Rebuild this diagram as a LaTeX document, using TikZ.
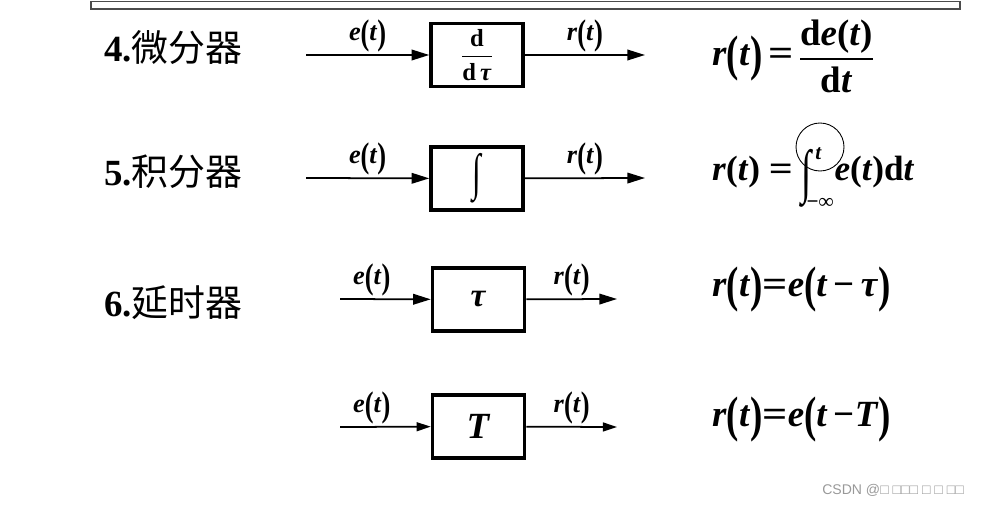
\documentclass[tikz,border=0pt]{standalone}
\usepackage{fontspec}
\usepackage{amsmath}
\usepackage{graphicx}
\usetikzlibrary{positioning, arrows.meta}
\setmainfont{Liberation Serif}
\setsansfont{Liberation Sans}
\newfontfamily\cjk{Noto Sans CJK SC}
\newcommand{\vi}[1]{\textbf{\textit{#1}}}
\newcommand{\lp}{\raisebox{-0.14em}{\scalebox{1}[1.35]{\bfseries(}}}
\newcommand{\rp}{\raisebox{-0.14em}{\scalebox{1}[1.35]{\bfseries)}}}
\newcommand{\eq}{\scalebox{1.2}[1]{\bfseries =}}
\newcommand{\integ}{\raisebox{-0.3em}{\scalebox{1}[1.6]{∫}}}
\newcommand{\stackfrac}[2]{$\vcenter{\halign{\hfil##\hfil\cr #1\cr\noalign{\kern3pt\hrule height 0.8pt\kern4pt}#2\cr}}$}

\begin{document}
\begin{tikzpicture}[
        x=0.02cm, y=-0.02cm,
        block/.style={rectangle, draw, line width=2pt, minimum width=1.84cm, minimum height=1.26cm, inner sep=0pt, font=\fontsize{16}{18}\selectfont\bfseries},
        sig/.style={line width=1pt, -{Triangle[length=10pt, width=6pt]}},
        sigl/.style={above=-2pt, font=\fontsize{15}{17}\selectfont\bfseries},
        title/.style={anchor=west, font=\fontsize{21}{24}\selectfont\bfseries},
        law/.style={anchor=west, font=\fontsize{21}{24}\selectfont\bfseries},
    ]
        \useasboundingbox (0,0) rectangle (982,506);
        \draw[line width=0.7pt, black!70] (91,1.5) rectangle (960,9);

        % 4. differentiator
        \node[title] (T4) at (98,48) {4.{\cjk\mdseries 微分器}};
        \node[block] (B4) at (477,55) {\fontsize{14}{16}\selectfont$\dfrac{\text{\bfseries d}}{\text{\bfseries d\,\vi{τ}}}$};
        \coordinate (I4) at (306,55);
        \coordinate (O4) at (645,55);
        \draw[sig] (I4) -- (B4) node[sigl, midway] {\vi{e}\lp\vi{t}\rp};
        \draw[sig] (B4) -- (O4) node[sigl, midway] {\vi{r}\lp\vi{t}\rp};
        \node[law] (F4) at (706,56) {\vi{r}\lp\vi{t}\rp\,\eq\,{\fontsize{21}{22}\selectfont\stackfrac{d\vi{e}(\vi{t})}{d\vi{t}}}};

        % 5. integrator
        \node[title] (T5) at (98,172) {5.{\cjk\mdseries 积分器}};
        \node[block] (B5) at (477,178.5) {\fontsize{18}{20}\selectfont\mdseries\integ};
        \coordinate (I5) at (306,178);
        \coordinate (O5) at (645,178);
        \draw[sig] (I5) -- (B5) node[sigl, midway] {\vi{e}\lp\vi{t}\rp};
        \draw[sig] (B5) -- (O5) node[sigl, midway] {\vi{r}\lp\vi{t}\rp};
        \node[law, font=\fontsize{20}{22}\selectfont\bfseries] (F5) at (706,178) {\vi{r}(\vi{t}) \eq\ $\mathop{\text{\fontsize{21}{24}\selectfont\integ}}\nolimits_{\kern-3pt\text{\fontsize{12}{14}\selectfont\bfseries −∞}}^{\kern2pt\text{\fontsize{12}{14}\selectfont\vi{t}}}$\vi{e}(\vi{t})d\vi{t}};
        \node[circle, draw, line width=0.5pt, minimum size=0.96cm, inner sep=0pt] (C5) at (820,147) {};

        % 6. delay
        \node[title] (T6) at (98,303) {6.{\cjk\mdseries 延时器}};
        \node[block] (B6) at (478.5,299.5) {\fontsize{19}{21}\selectfont\vi{τ}};
        \coordinate (I6) at (340,299);
        \coordinate (O6) at (617,299);
        \draw[sig] (I6) -- (B6) node[sigl, pos=0.35] {\vi{e}\lp\vi{t}\rp};
        \draw[sig] (B6) -- (O6) node[sigl, midway] {\vi{r}\lp\vi{t}\rp};
        \node[law] (F6) at (706,290) {\vi{r}\lp\vi{t}\rp\eq\vi{e}\lp\vi{t}\,−\,\vi{τ}\rp};

        \node[block] (B7) at (478.5,426.5) {\fontsize{21}{23}\selectfont\vi{T}};
        \coordinate (I7) at (340,427);
        \coordinate (O7) at (617,427);
        \draw[sig, -{Triangle[length=8pt, width=5pt]}] (I7) -- (B7) node[sigl, pos=0.35] {\vi{e}\lp\vi{t}\rp};
        \draw[sig, -{Triangle[length=8pt, width=5pt]}] (B7) -- (O7) node[sigl, midway] {\vi{r}\lp\vi{t}\rp};
        \node[law] (F7) at (706,420) {\vi{r}\lp\vi{t}\rp\eq\vi{e}\lp\vi{t}\,−\vi{T}\rp};

        \node[anchor=east, text=black!40, font=\sffamily\fontsize{8}{10}\selectfont] (WM) at (970,490) {CSDN @□ □□□ □ □ □□};
    \end{tikzpicture}
\end{document}
